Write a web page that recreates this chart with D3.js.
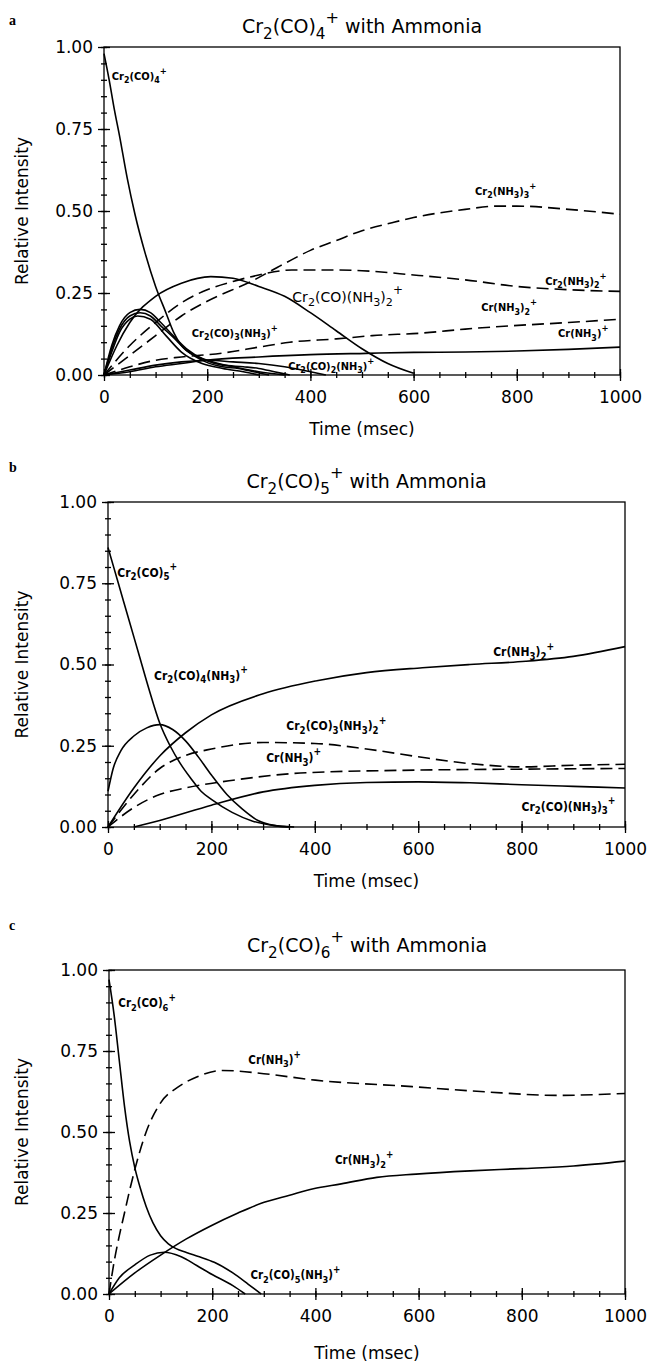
<!DOCTYPE html>
<meta charset="utf-8">
<head>
  <meta charset="utf-8">
  <title>Cr2(CO)n+ with Ammonia</title>
</head>
<style>
body { margin: 0; background: #fff; }
svg text { font-family: 'DejaVu Sans', sans-serif; fill: #000; }
.tag { font-family: 'DejaVu Sans Condensed', 'DejaVu Sans', sans-serif; font-weight: bold; }
.letter { font-family: 'Liberation Serif', 'DejaVu Serif', serif; font-weight: bold; font-size: 14px; }
.curve { fill: none; stroke: #000; stroke-width: 1.6; }
</style>
<body>
<div id="chart"></div>

<script src="https://d3js.org/d3.v7.min.js"></script>
<script>

// axis ticks (time in msec, relative intensity)
var xTicks = [0, 200, 400, 600, 800, 1000]
var yTicks = [0, 0.25, 0.5, 0.75, 1]
var xMinor = d3.range(0, 1001, 50)
var yMinor = d3.range(0, 1.0001, 0.05)

var titles = ['Cr_2(CO)_4^+ with Ammonia', 'Cr_2(CO)_5^+ with Ammonia', 'Cr_2(CO)_6^+ with Ammonia']

// ---- panel a : Cr2(CO)4+  [time, intensity]
var aCO4 = [[0,0.98],[10,0.90],[20,0.81],[30,0.73],[45,0.60],[60,0.49],[80,0.37],[100,0.27],[120,0.19],[135,0.13],[150,0.09],[175,0.06],[200,0.045],[250,0.025],[300,0.01],[350,0]]
var aCO3NH3 = [[0,0],[15,0.09],[30,0.15],[50,0.19],[70,0.2],[90,0.19],[110,0.16],[134,0.12],[160,0.08],[197,0.045],[230,0.03],[270,0.025],[300,0.02],[330,0.01],[360,0]]
var aMid1 = [[0,0],[15,0.08],[30,0.14],[50,0.18],[70,0.19],[90,0.18],[110,0.15],[134,0.115],[160,0.075],[197,0.04],[230,0.025],[260,0.02],[290,0.01],[320,0]]
var aMid2 = [[0,0],[15,0.07],[30,0.13],[50,0.17],[65,0.18],[90,0.17],[120,0.12],[150,0.07],[190,0.035],[230,0.02],[270,0.01],[300,0]]
var aCO2NH3 = [[0,0],[50,0.015],[100,0.03],[150,0.04],[200,0.045],[250,0.04],[300,0.035],[350,0.025],[400,0.01],[430,0]]
var aCONH32 = [[0,0],[25,0.09],[50,0.16],[100,0.24],[150,0.28],[207,0.30],[250,0.295],[300,0.27],[350,0.24],[400,0.19],[450,0.135],[500,0.08],[550,0.035],[600,0.005]]
var aNH33 = [[0,0],[50,0.06],[100,0.12],[150,0.18],[200,0.225],[285,0.285],[350,0.34],[400,0.38],[450,0.41],[500,0.44],[560,0.465],[600,0.48],[700,0.505],[760,0.515],[800,0.515],[900,0.505],[1000,0.49]]
var aNH32 = [[0,0],[50,0.09],[100,0.16],[150,0.22],[200,0.26],[250,0.285],[300,0.305],[364,0.32],[450,0.32],[500,0.318],[600,0.305],[700,0.29],[800,0.27],[900,0.26],[1000,0.255]]
var aCrNH32 = [[0,0],[50,0.025],[100,0.045],[150,0.055],[230,0.067],[300,0.085],[360,0.1],[450,0.11],[520,0.12],[618,0.128],[700,0.14],[790,0.15],[900,0.16],[1000,0.17]]
var aCrNH3 = [[0,0],[50,0.01],[100,0.025],[150,0.035],[197,0.045],[300,0.055],[400,0.062],[508,0.066],[600,0.069],[700,0.07],[800,0.073],[900,0.078],[1000,0.085]]

// ---- panel b : Cr2(CO)5+
var bCO5 = [[0,0.86],[20,0.75],[40,0.64],[60,0.53],[80,0.42],[100,0.32],[120,0.25],[140,0.195],[160,0.15],[180,0.11],[200,0.085],[240,0.045],[280,0.018],[320,0.005],[360,0]]
var bCO4NH3 = [[0,0.11],[10,0.18],[25,0.235],[50,0.28],[75,0.305],[100,0.315],[125,0.3],[150,0.265],[175,0.215],[200,0.16],[230,0.1],[260,0.055],[290,0.02],[320,0.005],[350,0]]
var bCrNH32 = [[0,0],[50,0.12],[101,0.22],[150,0.29],[200,0.345],[300,0.41],[404,0.45],[500,0.475],[608,0.49],[700,0.5],[808,0.51],[900,0.525],[1000,0.555]]
var bCO3NH32 = [[0,0],[50,0.1],[100,0.18],[150,0.22],[200,0.24],[300,0.26],[400,0.257],[500,0.24],[600,0.216],[700,0.195],[800,0.185],[900,0.19],[1000,0.193]]
var bCrNH3 = [[0,0],[50,0.06],[100,0.10],[150,0.12],[242,0.144],[383,0.167],[595,0.175],[800,0.178],[1000,0.18]]
var bCONH33 = [[50,0],[100,0.02],[200,0.067],[300,0.108],[400,0.128],[500,0.137],[600,0.139],[700,0.136],[800,0.13],[900,0.125],[1000,0.12]]

// ---- panel c : Cr2(CO)6+
var cCO6 = [[0,0.97],[10,0.86],[20,0.72],[30,0.58],[40,0.47],[50,0.39],[60,0.33],[72,0.27],[85,0.22],[100,0.18],[115,0.155],[130,0.14],[150,0.128],[175,0.115],[204,0.098],[240,0.065],[270,0.03],[295,0]]
var cCO5NH3 = [[0,0],[20,0.05],[50,0.09],[80,0.12],[107,0.129],[140,0.115],[170,0.088],[200,0.06],[240,0.026],[264,0]]
var cCrNH3 = [[0,0],[10,0.1],[20,0.18],[30,0.25],[40,0.32],[51,0.39],[72,0.5],[100,0.59],[135,0.64],[170,0.67],[220,0.69],[300,0.68],[400,0.66],[588,0.64],[728,0.624],[867,0.613],[1000,0.619]]
var cCrNH32 = [[0,0],[50,0.065],[100,0.12],[150,0.17],[197,0.21],[250,0.25],[295,0.28],[350,0.305],[396,0.325],[450,0.34],[519,0.36],[595,0.37],[700,0.38],[798,0.387],[900,0.395],[1000,0.41]]

// curve labels: [text, time, intensity]
var labelsA = [['Cr_2(CO)_4^+',15,0.9],['Cr_2(NH_3)_3^+',719,0.55],['Cr_2(CO)(NH_3)_2^+',365,0.224],['Cr_2(NH_3)_2^+',855,0.275],
  ['Cr(NH_3)_2^+',731,0.194],['Cr(NH_3)^+',880,0.115],['Cr_2(CO)_3(NH_3)^+',170,0.117],['Cr_2(CO)_2(NH_3)^+',357,0.015]]
var labelsB = [['Cr_2(CO)_5^+',18,0.77],['Cr_2(CO)_4(NH_3)^+',89,0.453],['Cr(NH_3)_2^+',745,0.525],['Cr_2(CO)_3(NH_3)_2^+',345,0.298],
  ['Cr(NH_3)^+',306,0.2],['Cr_2(CO)(NH_3)_3^+',800,0.05]]
var labelsC = [['Cr_2(CO)_6^+',18,0.885],['Cr(NH_3)^+',270,0.71],['Cr(NH_3)_2^+',438,0.40],['Cr_2(CO)_5(NH_3)^+',274,0.046]]

// layout of the three panels
var panels = [
  { letter: 'a', letterY: 25, titleY: 33, left: 104, right: 620, top: 47, bottom: 375, xTitleGap: 60, labelSize: 11, bigLabel: 2,
    series: [aCO4, aCO3NH3, aMid1, aMid2, aCO2NH3, aCONH32, aCrNH3], dashed: [aNH33, aNH32, aCrNH32], labels: labelsA },
  { letter: 'b', letterY: 472, titleY: 488, left: 108, right: 625, top: 502, bottom: 827, xTitleGap: 60, labelSize: 12, bigLabel: -1,
    series: [bCO5, bCO4NH3, bCrNH32, bCONH33], dashed: [bCO3NH32, bCrNH3], labels: labelsB },
  { letter: 'c', letterY: 930, titleY: 952, left: 109, right: 625, top: 970, bottom: 1294, xTitleGap: 65, labelSize: 11.5, bigLabel: -1,
    series: [cCO6, cCO5NH3, cCrNH32], dashed: [cCrNH3], labels: labelsC }
]

var svg = d3.select('#chart').append('svg')
    .attr('width', 649)
    .attr('height', 1365)

// writes "Cr_2(CO)_4^+" style strings as tspans with sub/superscripts
function chem(sel, str, size) {
  var shift = 0
  for (var i = 0; i < str.length; i++) {
    var c = str[i], want = 0, fs = size
    if (c === '_') { c = str[++i]; want = 0.3 * size; fs = size * 0.8 }
    else if (c === '^') { c = str[++i]; want = -0.55 * size; fs = size * 0.85 }
    sel.append('tspan')
      .attr('dy', want - shift)
      .style('font-size', fs + 'px')
      .text(c)
    shift = want
  }
}

panels.forEach(function (p, i) {
  var x = d3.scaleLinear().domain([0, 1000]).range([p.left, p.right])
  var y = d3.scaleLinear().domain([0, 1]).range([p.bottom, p.top])
  var g = svg.append('g')

  g.append('rect')
    .attr('x', p.left).attr('y', p.top)
    .attr('width', p.right - p.left).attr('height', p.bottom - p.top)
    .attr('fill', 'none').attr('stroke', '#000').attr('stroke-width', 1.3)

  // "+" ticks: one axis outward, one inward, for minor and major
  function addAxis(axis, tr, vals, size, fmt, pad) {
    var a = g.append('g').attr('transform', tr)
      .call(axis.tickValues(vals).tickSize(size).tickPadding(pad || 3).tickFormat(fmt || ''))
    a.select('.domain').remove()
    a.selectAll('line').attr('stroke-width', 1.3)
    a.selectAll('text').attr('font-size', 17).attr('font-family', "'DejaVu Sans', sans-serif")
    return a
  }
  var bt = 'translate(0,' + p.bottom + ')', lt = 'translate(' + p.left + ',0)'
  addAxis(d3.axisBottom(x), bt, xMinor, 3)
  addAxis(d3.axisBottom(x), bt, xMinor, -3)
  addAxis(d3.axisBottom(x), bt, xTicks, 6, d3.format('d'), 10)
  addAxis(d3.axisBottom(x), bt, xTicks, -6)
  addAxis(d3.axisLeft(y), lt, yMinor, 3)
  addAxis(d3.axisLeft(y), lt, yMinor, -3)
  addAxis(d3.axisLeft(y), lt, yTicks, 6, d3.format('.2f'), 5)
  addAxis(d3.axisLeft(y), lt, yTicks, -6)

  var line = d3.line()
      .x(function (d) { return x(d[0]) })
      .y(function (d) { return y(d[1]) })
      .curve(d3.curveMonotoneX)

  g.selectAll('.solid').data(p.series).enter().append('path')
    .attr('class', 'curve solid').attr('d', line)
  g.selectAll('.dash').data(p.dashed).enter().append('path')
    .attr('class', 'curve dash').attr('d', line)
    .attr('stroke-dasharray', '12,6')

  p.labels.forEach(function (l, k) {
    var big = k === p.bigLabel
    var t = g.append('text').attr('class', big ? null : 'tag')
      .attr('x', x(l[1])).attr('y', y(l[2]))
    chem(t, l[0], big ? 14 : p.labelSize)
  })

  // title, axis titles and panel letter
  var title = g.append('text')
    .attr('x', (p.left + p.right) / 2).attr('y', p.titleY)
    .attr('text-anchor', 'middle')
  chem(title, titles[i], 19)

  g.append('text')
    .attr('x', (p.left + p.right) / 2).attr('y', p.bottom + p.xTitleGap)
    .attr('text-anchor', 'middle').style('font-size', '17px')
    .text('Time (msec)')
  g.append('text')
    .attr('transform', 'translate(28,' + ((p.top + p.bottom) / 2) + ') rotate(-90)')
    .attr('text-anchor', 'middle').style('font-size', '17px')
    .text('Relative Intensity')
  g.append('text').attr('class', 'letter')
    .attr('x', 9).attr('y', p.letterY)
    .text(p.letter)
})

</script>
</body>
